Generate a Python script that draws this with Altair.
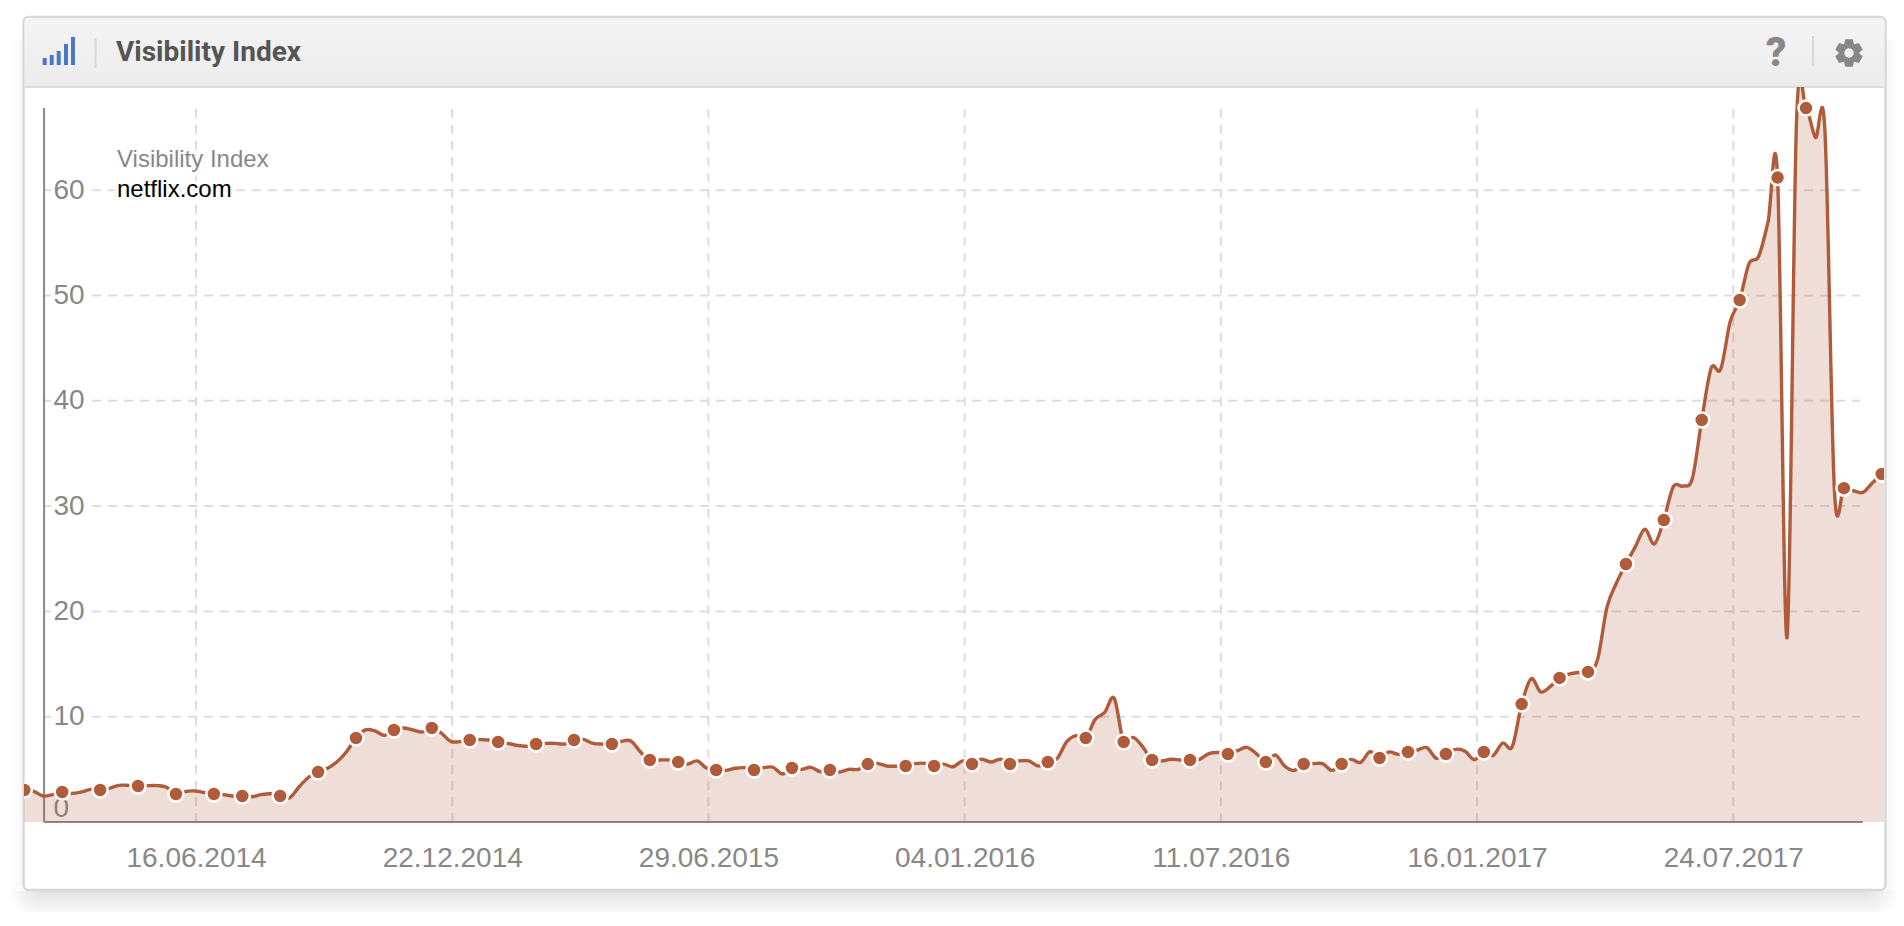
import math
import altair as alt
import pandas as pd

tick_labels = ["16.06.2014", "22.12.2014", "29.06.2015", "04.01.2016",
               "11.07.2016", "16.01.2017", "24.07.2017"]
y_ticks = [0, 10, 20, 30, 40, 50, 60]

values = [
    3.04, 2.9, 2.47, 2.6, 2.85, 2.72, 2.85, 3.1, 3.04, 3.2,
    3.48, 3.48, 3.42, 3.45, 3.45, 3.3, 2.66, 2.9, 2.95, 2.8,
    2.66, 2.6, 2.47, 2.47, 2.4, 2.6, 2.68, 2.47, 2.3, 3.35,
    4.25, 4.75, 5.1, 5.72, 6.67, 7.98, 8.74, 8.65, 8.23, 8.74,
    8.93, 8.74, 8.55, 8.93, 8.43, 7.66, 7.63, 7.79, 7.82, 7.79,
    7.6, 7.47, 7.28, 7.2, 7.41, 7.47, 7.47, 7.41, 7.79, 7.85,
    7.47, 7.41, 7.41, 7.66, 7.7, 6.67, 5.89, 5.89, 5.89, 5.7,
    5.51, 5.8, 5.1, 4.94, 4.9, 5.1, 5.16, 4.94, 5.16, 5.2,
    4.56, 5.13, 5.0, 5.19, 4.78, 4.94, 4.75, 5.0, 5.0, 5.5,
    5.57, 5.32, 5.29, 5.32, 5.54, 5.57, 5.32, 5.5, 5.25, 5.8,
    5.51, 5.96, 5.7, 5.96, 5.51, 5.8, 5.8, 5.32, 5.7, 6.05,
    7.63, 8.2, 7.98, 9.75, 10.4, 11.75, 7.6, 8.03, 7.15, 5.89,
    5.8, 5.96, 5.89, 5.89, 5.95, 6.5, 6.6, 6.46, 6.77, 7.09,
    6.5, 5.7, 6.37, 5.3, 4.9, 5.51, 5.54, 5.54, 4.9, 5.51,
    5.95, 5.66, 6.68, 6.08, 6.65, 6.42, 6.65, 6.84, 7.06, 6.05,
    6.46, 6.9, 6.74, 5.92, 6.65, 6.33, 7.5, 7.15, 11.2, 13.6,
    12.35, 12.85, 13.68, 14.05, 14.2, 14.25, 15.4, 20.4, 22.7, 24.5,
    26.15, 27.8, 26.4, 28.68, 31.85, 31.9, 32.6, 38.18, 43.1, 43.0,
    47.5, 49.57, 53.05, 53.7, 57.0, 61.2, 17.5, 66.5, 67.8, 65.0,
    65.6, 31.5, 31.7, 31.46, 31.3, 32.2, 33.05, 33.6,
]
marker_index = [0, 4, 8, 12, 16, 20, 23, 27, 31, 35, 39, 43, 47, 50, 54, 58, 62, 66,
                69, 73, 77, 81, 85, 89, 93, 96, 100, 104, 108, 112, 116, 119, 123,
                127, 131, 135, 139, 143, 146, 150, 154, 158, 162, 165, 169, 173,
                177, 181, 185, 188, 192, 196]

dates = pd.date_range("2014-02-09 08:00", "2017-11-17 14:00", periods=len(values))
df = pd.DataFrame({"date": dates, "value": values})
markers = df.iloc[marker_index]

ticks = pd.to_datetime(tick_labels, format="%d.%m.%Y")
xs = alt.Scale(domain=[alt.DateTime(year=2014, month=2, date=9, hours=2, minutes=24),
                       alt.DateTime(year=2017, month=11, date=12, hours=5)])
ys = alt.Scale(domain=[0, 69.8], nice=False)

W, H = 1860, 735
LINE = "#b05c3b"
GRID = "#dddddd"
GREY = "#888888"
one = pd.DataFrame({"a": [0]})

x_axis = alt.Axis(values=[alt.DateTime(year=t.year, month=t.month, date=t.day) for t in ticks],
                  format="%d.%m.%Y", title=None, grid=False, domain=False, ticks=False,
                  labelFont="Liberation Sans", labelFontSize=28, labelColor=GREY,
                  labelPadding=22, labelOverlap=False, labelBound=False, labelFlush=False)
y_axis = alt.Axis(values=y_ticks, title=None, grid=False, domain=False, ticks=False, offset=-20,
                  labelAlign="left", labelPadding=-9, labelFont="Liberation Sans",
                  labelFontSize=28, labelColor=GREY, labelFlush=True, labelFlushOffset=0)


def X(field):
    return alt.X(field, scale=xs, axis=x_axis)


def Y(field):
    return alt.Y(field, scale=ys, axis=y_axis)


def px(x):
    return alt.value(x - 24)


def py(y):
    return alt.value(y - 87)


def box(x0, x1, y0, y1, **kw):
    return alt.Chart(one).mark_rect(**kw).encode(x=px(x0), x2=px(x1), y=py(y0), y2=py(y1))


def label(text, x, y, **kw):
    return alt.Chart(pd.DataFrame({"t": [text]})).mark_text(align="left", baseline="middle", **kw).encode(
        x=px(x), y=py(y), text="t:N")


def grad(c0, c1, horizontal=False):
    return alt.Gradient(gradient="linear", stops=[alt.GradientStop(color=c0, offset=0),
                                                  alt.GradientStop(color=c1, offset=1)],
                        x1=0, y1=0, x2=1 if horizontal else 0, y2=0 if horizontal else 1)


def radial(cx, cy, c0):
    return alt.Gradient(gradient="radial", stops=[alt.GradientStop(color=c0, offset=0),
                                                  alt.GradientStop(color="#ffffff", offset=1)],
                        x1=cx, y1=cy, x2=cx, y2=cy, r1=0, r2=1)


layers = []
# card shadow strips
SH = "#e2e2e2"
layers.append(box(40, 1868, 891, 918, color=grad(SH, "#ffffff")))
layers.append(box(8, 40, 891, 918, color=radial(1, 0, SH)))
layers.append(box(1868, 1900, 891, 918, color=radial(0, 0, SH)))
layers.append(box(8, 23, 40, 891, color=grad("#ffffff", "#f7f7f7", True)))
layers.append(box(1886, 1900, 40, 891, color=grad("#f7f7f7", "#ffffff", True)))
# card
layers.append(box(23.5, 1885.5, 17, 890, fill="white", fillOpacity=0, stroke="#d8d8d8",
                  strokeWidth=2.5, cornerRadius=5))
# header
layers.append(box(24.5, 1884.5, 18, 87, color=grad("#f4f4f4", "#ececec"),
                  cornerRadiusTopLeft=4, cornerRadiusTopRight=4))
layers.append(box(24.5, 1884.5, 86, 88, color="#dcdcdc"))
for bx, top in [(42.7, 58), (49.7, 55), (56.7, 51), (64, 44), (71, 37)]:
    layers.append(box(bx, bx + 4, top, 65, color="#4a78c4"))
layers.append(box(94.5, 96.5, 38, 68, color="#d8d8d8"))
layers.append(box(1812, 1814, 36, 66, color="#d8d8d8"))
layers.append(label("Visibility Index", 116, 53, font="Roboto", fontWeight="bold", fontSize=28, color="#555555"))
layers.append(label("?", 1766, 54, font="Roboto", fontWeight=900, fontSize=40, color=GREY))
gear_pts = []
for t in range(6):
    a = t * math.pi / 3 + math.pi / 6
    for da, r in [(-0.50, 0.72), (-0.27, 1.0), (0.27, 1.0), (0.50, 0.72)]:
        gear_pts.append((r * math.cos(a + da), r * math.sin(a + da)))
gear = "M" + "L".join(f"{p[0]:.3f} {p[1]:.3f}" for p in gear_pts) + "Z"
layers.append(alt.Chart(one).mark_point(shape=gear, filled=True, size=800, color=GREY, opacity=1).encode(x=px(1849), y=py(53)))
layers.append(alt.Chart(one).mark_point(shape="circle", filled=True, size=90, color="#efefef", opacity=1).encode(x=px(1849), y=py(53)))

# horizontal grid, in two parts around the labels
grid_rows = []
for v in y_ticks[1:]:
    grid_rows.append({"a": "2014-02-23T22:00:00", "b": "2014-03-01T00:00:00", "v": v})
    grid_rows.append({"a": "2014-03-31T08:00:00", "b": "2017-10-25T12:00:00", "v": v})
layers.append(alt.Chart(pd.DataFrame(grid_rows)).mark_rule(color=GRID, strokeWidth=2, strokeDash=[9, 7]).encode(
    x=X("a:T"), x2="b:T", y=Y("v:Q")))
# vertical grid
vgrid = pd.DataFrame({"date": ticks, "v0": 0, "v1": 67.8})
layers.append(alt.Chart(vgrid).mark_rule(color=GRID, strokeWidth=2, strokeDash=[9, 7]).encode(
    x=X("date:T"), y=Y("v0:Q"), y2="v1:Q"))
# legend text with white halo
for txt, x, y, col in [("Visibility Index", 117, 160, GREY), ("netflix.com", 117, 190, "black")]:
    layers.append(label(txt, x, y, font="Liberation Sans", fontSize=24, color="white", stroke="white", strokeWidth=7))
    layers.append(label(txt, x, y, font="Liberation Sans", fontSize=24, color=col))
# axis lines
layers.append(alt.Chart(pd.DataFrame({"a": ["2014-02-23T22:00:00"], "b": ["2017-10-27T12:00:00"], "v": [0]})).mark_rule(
    color="#8a8684", strokeWidth=2).encode(x=X("a:T"), x2="b:T", y=Y("v:Q")))
layers.append(alt.Chart(pd.DataFrame({"a": ["2014-02-23T22:00:00"], "v0": [0], "v1": [67.8]})).mark_rule(
    color="#8a8684", strokeWidth=2).encode(x=X("a:T"), y=Y("v0:Q"), y2="v1:Q"))
# series
layers.append(alt.Chart(df).mark_area(interpolate="cardinal", tension=0, clip=True, color=LINE, opacity=0.2).encode(
    x=X("date:T"), y=Y("value:Q")))
layers.append(alt.Chart(df).mark_line(interpolate="cardinal", tension=0, clip=True, color=LINE, strokeWidth=3.4).encode(
    x=X("date:T"), y=Y("value:Q")))
layers.append(alt.Chart(markers).mark_point(filled=True, clip=True, size=225, fill=LINE, stroke="white",
                                             strokeWidth=2.5, opacity=1).encode(x=X("date:T"), y=Y("value:Q")))

chart = alt.layer(*layers).properties(
    width=W, height=H,
    autosize=alt.AutoSizeParams(type="none"),
    padding={"left": 16, "top": 79, "right": 12, "bottom": 90},
).configure_view(stroke=None)

chart.save("out.html", embed_options={"renderer": "svg", "actions": False})
